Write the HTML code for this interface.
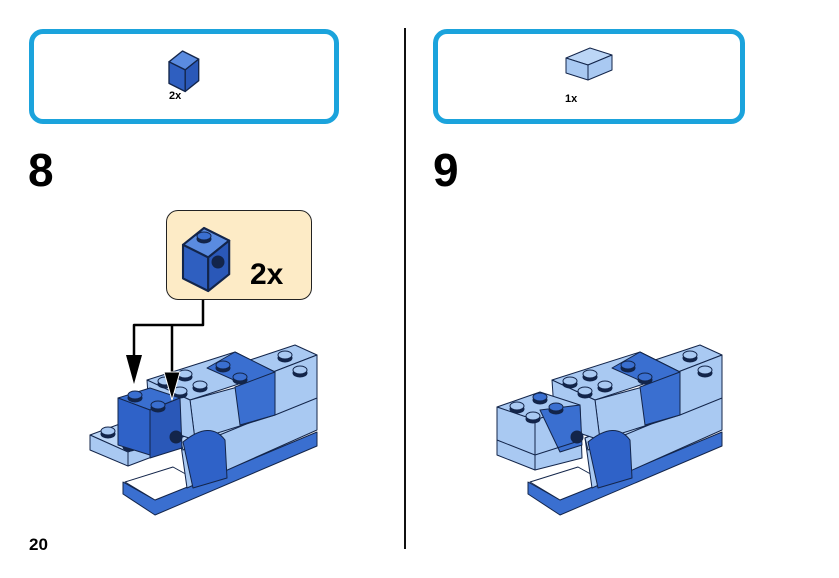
<!DOCTYPE html>
<html><head><meta charset="utf-8"><style>
html,body{margin:0;padding:0;background:#fff;}
body{width:839px;height:578px;position:relative;overflow:hidden;font-family:"Liberation Sans",sans-serif;}
.box{position:absolute;border:5px solid #1ba3dc;border-radius:14px;background:#fff;}
.num{position:absolute;font-weight:bold;font-size:46px;line-height:46px;}
</style></head><body>
<div class="box" style="left:29px;top:29px;width:300px;height:85px;"></div>
<div class="box" style="left:433px;top:29px;width:302px;height:85px;"></div>
<div style="position:absolute;left:404px;top:28px;width:2px;height:521px;background:#111"></div>
<div class="num" style="left:28px;top:147px;">8</div>
<div class="num" style="left:433px;top:147px;">9</div>
<div style="position:absolute;left:29px;top:535px;font-weight:bold;font-size:17px;">20</div>
<div style="position:absolute;left:169px;top:90px;font-weight:bold;font-size:11px;">2x</div>
<div style="position:absolute;left:565px;top:93px;font-weight:bold;font-size:11px;">1x</div>
<div style="position:absolute;left:166px;top:210px;width:144px;height:88px;border:1.5px solid #222;border-radius:12px;background:#fdebc6;"></div>
<div style="position:absolute;left:250px;top:258px;font-weight:bold;font-size:30px;">2x</div>
<svg width="839" height="578" style="position:absolute;left:0;top:0" stroke="#13254a" stroke-width="1" stroke-linejoin="round">
<defs>
<g id="stud"><ellipse cx="0" cy="2" rx="7" ry="4" fill="#13254a"/><ellipse cx="0" cy="-1" rx="7" ry="4" fill="#3a6fd0"/></g>
<g id="studL"><ellipse cx="0" cy="2" rx="7" ry="4" fill="#13254a"/><ellipse cx="0" cy="-1" rx="7" ry="4" fill="#a9c9f2"/></g>
<g id="brick1">
<polygon points="0,8 10,0 22,6 12,14" fill="#5a8be0"/>
<polygon points="0,8 12,14 12,30 0,24" fill="#2f5fc0"/>
<polygon points="12,14 22,6 22,22 12,30" fill="#2a58b8"/>
</g>
<g id="shared">
<!-- base plate -->
<polygon points="528,482 560,500 722,432 722,446 560,515 528,494" fill="#3a6fd0"/>
<polygon points="530,482 560,500 605,482 578,467" fill="#fff"/>
<!-- long lower body -->
<polygon points="585,438 722,385 722,430 592,488" fill="#a9c9f2"/>
<polygon points="585,438 722,385 722,395 588,450" fill="#bcd6f6"/>
<!-- tall back right brick -->
<polygon points="655,360 700,345 722,355 678,372" fill="#a9c9f2"/>
<polygon points="678,372 722,355 722,398 680,415" fill="#a9c9f2"/>
<!-- middle back bricks -->
<polygon points="552,380 640,352 680,372 595,400" fill="#a9c9f2"/>
<polygon points="612,368 640,352 680,372 650,385" fill="#3a6fd0"/>
<polygon points="595,400 650,385 680,372 680,415 600,440" fill="#a9c9f2"/>
<polygon points="640,387 680,372 680,415 645,425" fill="#3a6fd0"/>
<polygon points="552,380 595,400 600,440 555,425" fill="#a9c9f2"/>
<use href="#studL" x="570" y="382"/><use href="#studL" x="590" y="375"/>
<use href="#studL" x="585" y="392"/><use href="#studL" x="605" y="386"/>
<use href="#stud" x="628" y="366"/><use href="#stud" x="645" y="378"/>
<use href="#studL" x="690" y="356"/><use href="#studL" x="705" y="371"/>
<!-- curved slope -->
<path d="M588,442 Q615,420 630,440 L632,478 L598,488 Z" fill="#2f62c8"/>
</g>
</defs>
<use href="#shared"/>
<!-- right front light brick -->
<polygon points="497,407 540,392 580,405 535,420" fill="#a9c9f2"/>
<polygon points="497,407 535,420 535,470 497,455" fill="#a9c9f2"/>
<polygon points="535,420 580,405 582,458 535,470" fill="#a9c9f2"/>
<polygon points="540,410 580,405 582,445 560,452" fill="#3a6fd0"/>
<line x1="497" y1="440" x2="535" y2="455"/><line x1="535" y1="455" x2="582" y2="440"/>
<use href="#studL" x="517" y="407"/><use href="#stud" x="540" y="398"/>
<use href="#studL" x="533" y="417"/><use href="#stud" x="556" y="408"/>
<circle cx="577" cy="437" r="6" fill="#13254a"/>
<!-- left model -->
<g transform="translate(-405,0)"><use href="#shared"/></g>
<polygon points="90,435 125,422 165,438 128,452" fill="#bcd6f6"/>
<polygon points="90,435 128,452 128,466 90,450" fill="#a9c9f2"/>
<polygon points="128,452 165,438 165,452 128,466" fill="#a9c9f2"/>
<use href="#studL" x="108" y="432"/><use href="#studL" x="130" y="445"/>
<polygon points="118,398 150,388 180,398 150,410" fill="#3a6fd0"/>
<polygon points="118,398 150,410 150,455 118,445" fill="#2f62c8"/>
<polygon points="150,410 180,398 182,448 150,458" fill="#2a58b8"/>
<use href="#stud" x="135" y="396"/><use href="#stud" x="158" y="406"/>
<circle cx="176" cy="437" r="6" fill="#13254a"/>
<!-- callout brick -->
<g transform="translate(183,228) scale(2.1)"><use href="#brick1"/></g>
<use href="#stud" x="204" y="237"/>
<circle cx="218" cy="262" r="6" fill="#13254a"/>
<!-- small top bricks -->
<g transform="translate(169,51) scale(1.35)"><use href="#brick1"/></g>
<polygon points="566,58 590,48 612,55 588,65" fill="#bcd6f6"/>
<polygon points="566,58 588,65 588,80 566,73" fill="#a9c9f2"/>
<polygon points="588,65 612,55 612,70 588,80" fill="#a9c9f2"/>
<!-- arrows -->
<g stroke="#000" stroke-width="2.5" fill="none">
<polyline points="203,300 203,325 134,325 134,360"/>
<line x1="172" y1="325" x2="172" y2="375"/>
</g>
<polygon points="126,355 142,355 134,384" fill="#000" stroke="none"/>
<polygon points="164,372 180,372 172,400" fill="#000" stroke="#fff" stroke-width="1"/>
</svg>
</body></html>
